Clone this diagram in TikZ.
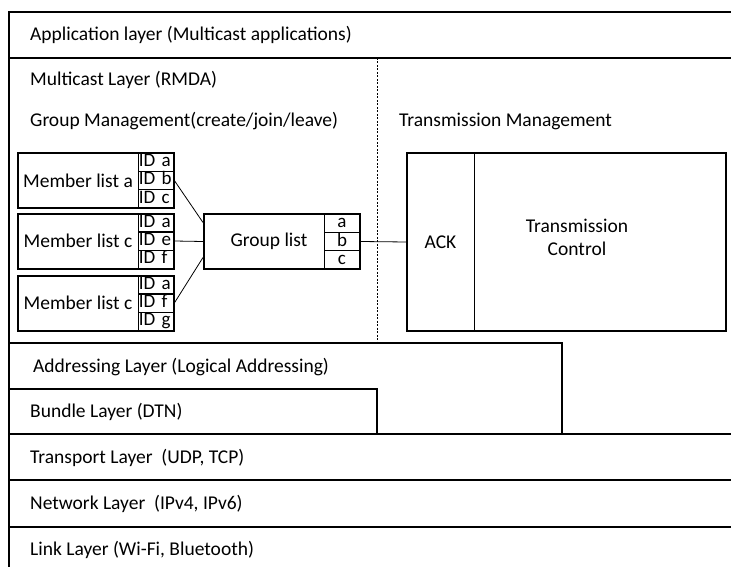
\documentclass[tikz,border=0pt]{standalone}
\usepackage{fontspec}
\setmainfont{Carlito}
\begin{document}
\begin{tikzpicture}[x=1pt,y=-1pt,
  thickline/.style={line width=2pt},
  txt/.style={inner sep=0pt,font=\fontsize{19.5}{23}\selectfont},
  lbl/.style={txt,anchor=west},
  mbox/.style={draw,line width=2pt,minimum width=156pt,minimum height=55pt,inner sep=0pt},
  idcell/.style={draw,line width=0.7pt,minimum width=36pt,minimum height=18.33pt,inner xsep=0.8pt,inner ysep=0pt,
     text width=34.4pt,align=left,text height=12pt,text depth=3pt,font=\fontsize{19}{22}\selectfont},
  gcell/.style={draw,line width=0.7pt,minimum width=36pt,minimum height=18.33pt,inner sep=0pt,
     text height=12pt,text depth=3pt,font=\fontsize{19}{22}\selectfont},
  conn/.style={line width=0.8pt}]
\useasboundingbox (0,0) rectangle (731,567);
\clip (0,0) rectangle (731,567);

% layer frame
\draw[thickline] (745,12) -- (9,12) -- (9,580);
\draw[thickline] (9,58) -- (745,58);
\draw[thickline] (9,343) -- (562,343) -- (562,434);
\draw[thickline] (9,389) -- (377,389) -- (377,434);
\draw[thickline] (9,434) -- (745,434);
\draw[thickline] (9,480) -- (745,480);
\draw[thickline] (9,527) -- (745,527);
\draw[line width=0.6pt,dash pattern=on 2pt off 1.5pt] (377,58) -- (377,343);

% layer labels
\node[lbl] (app) at (30,35) {Application layer (Multicast applications)};
\node[lbl] (mcl) at (30,80) {Multicast Layer (RMDA)};
\node[lbl] (grm) at (30,121) {Group Management(create/join/leave)};
\node[lbl] (trm) at (399,121) {Transmission Management};
\node[lbl] (adl) at (33,367) {Addressing Layer (Logical Addressing)};
\node[lbl] (bul) at (30,412) {Bundle Layer (DTN)};
\node[lbl] (trl) at (30,458) {Transport Layer\ \ (UDP, TCP)};
\node[lbl] (nel) at (30,504) {Network Layer\ \ (IPv4, IPv6)};
\node[lbl] (lil) at (30,550) {Link Layer (Wi-Fi, Bluetooth)};

% member lists
\node[idcell] (m1a) at (156,162.2) {ID a};
\node[idcell] (m1b) at (156,180.5) {ID b};
\node[idcell] (m1c) at (156,198.8) {ID c};
\node[mbox] (m1) at (96,180.5) {};
\node[txt] (m1t) at (78,180.5) {Member list a};

\node[idcell] (m2a) at (156,222.7) {ID a};
\node[idcell] (m2b) at (156,241) {ID e};
\node[idcell] (m2c) at (156,259.3) {ID f};
\node[mbox] (m2) at (96,241) {};
\node[txt] (m2t) at (78,241) {Member list c};

\node[idcell] (m3a) at (156,284.7) {ID a};
\node[idcell] (m3b) at (156,303) {ID f};
\node[idcell] (m3c) at (156,321.3) {ID g};
\node[mbox] (m3) at (96,303) {};
\node[txt] (m3t) at (78,303) {Member list c};

% group list
\node[gcell] (gla) at (342,223.2) {a};
\node[gcell] (glb) at (342,241.5) {b};
\node[gcell] (glc) at (342,259.8) {c};
\node[mbox] (gl) at (282,241.5) {};
\node[txt] (glt) at (269,241) {Group list};

% transmission box
\node[draw,line width=0.8pt,minimum width=67pt,minimum height=178pt,inner sep=0pt,
      font=\fontsize{19.5}{23}\selectfont] (ack) at (440.5,242) {ACK};
\node[draw,line width=2pt,minimum width=319pt,minimum height=178pt,inner sep=0pt] (tc) at (566.5,242) {};
\node[txt,align=center] (tct) at (577,237) {Transmission\\Control};

% connectors
\draw[conn] (m1b.east) -- ([yshift=19pt]gl.west);
\draw[conn] (m2b.east) -- (gl.west);
\draw[conn] (m3b.east) -- ([yshift=-16pt]gl.west);
\draw[conn] (glb.east) -- (ack.west);
\end{tikzpicture}
\end{document}
